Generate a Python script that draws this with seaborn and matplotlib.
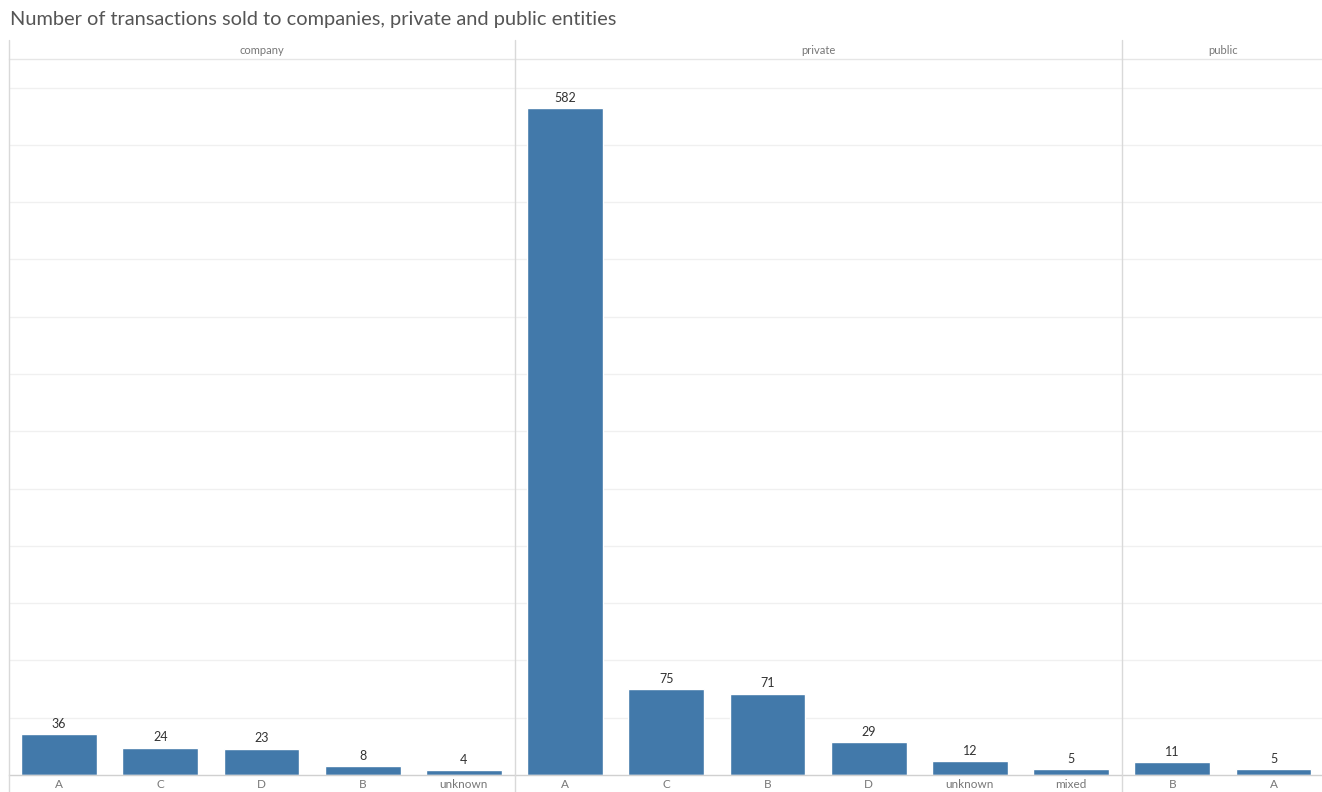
import matplotlib
matplotlib.use("Agg")
import matplotlib.pyplot as plt
from matplotlib.lines import Line2D
import numpy as np
import pandas as pd
import seaborn as sns

# Transactions by buyer segment and category
company_cats = ["A", "C", "D", "B", "unknown"]
company_vals = [36, 24, 23, 8, 4]
private_cats = ["A", "C", "B", "D", "unknown", "mixed"]
private_vals = [582, 75, 71, 29, 12, 5]
public_cats = ["B", "A"]
public_vals = [11, 5]

segments = ["company", "private", "public"]
seg_cats = [company_cats, private_cats, public_cats]
seg_vals = [company_vals, private_vals, public_vals]

df = pd.concat(
    [pd.DataFrame({"segment": s, "category": c, "count": v})
     for s, c, v in zip(segments, seg_cats, seg_vals)],
    ignore_index=True,
)

sns.set_theme(style="white")
plt.rcParams["font.family"] = ["Lato", "DejaVu Sans"]

W, H = 1322, 792
fig = plt.figure(figsize=(W / 100, H / 100), dpi=100)

BAR = "#4279aa"
GRID = "#f0f0f0"
SEP = "#d9d9d9"

left_px = 8.5
slot = 101.2
top_px, base_px = 59, 775
header_top_px = 40

def fx(px):
    return px / W

def fy(py):
    return 1 - py / H

x0 = left_px
for seg, cats in zip(segments, seg_cats):
    w = slot * len(cats)
    ax = fig.add_axes([fx(x0), fy(base_px), fx(w), fy(top_px) - fy(base_px)])
    sub = df[df["segment"] == seg]
    sns.barplot(data=sub, x="category", y="count", order=cats, color=BAR,
                width=0.75, saturation=1, ax=ax, errorbar=None)
    ax.set_ylim(0, 625)
    ax.set_xlim(-0.5, len(cats) - 0.5)
    ax.set_yticks(np.arange(50, 601, 50))
    ax.yaxis.grid(True, color=GRID, linewidth=1)
    ax.set_axisbelow(True)
    ax.tick_params(axis="y", left=False, labelleft=False)
    ax.tick_params(axis="x", length=0, pad=3, labelsize=8.5, labelcolor="#777777")
    ax.set_xticks(np.arange(len(cats)), minor=False)
    ax.set_xticks(np.arange(len(cats) - 1) + 0.5, minor=True)
    ax.tick_params(axis="x", which="minor", length=4, color="#eeeeee", direction="out")
    ax.set_xlabel("")
    ax.set_ylabel("")
    for side in ["left", "right"]:
        ax.spines[side].set_visible(False)
    ax.spines["top"].set_color("#e6e6e6")
    ax.spines["top"].set_linewidth(1)
    ax.spines["bottom"].set_color("#d0d0d0")
    ax.spines["bottom"].set_linewidth(1)
    for cont in ax.containers:
        ax.bar_label(cont, padding=3, fontsize=9, color="#333333")
    # segment header
    fig.text(fx(x0 + w / 2), fy(50), seg, ha="center", va="center",
             fontsize=8, color="#777777")
    x0 += w

# vertical separators between segments
x0 = left_px
for cats in [[]] + seg_cats[:-1]:
    x0 += slot * len(cats)
    fig.add_artist(Line2D([fx(x0), fx(x0)], [fy(header_top_px), 0],
                          color=SEP, linewidth=1))

fig.text(fx(10), fy(20), "Number of transactions sold to companies, private and public entities",
         ha="left", va="center", fontsize=14.4, color="#555555")

fig.savefig("out.png", dpi=100)
